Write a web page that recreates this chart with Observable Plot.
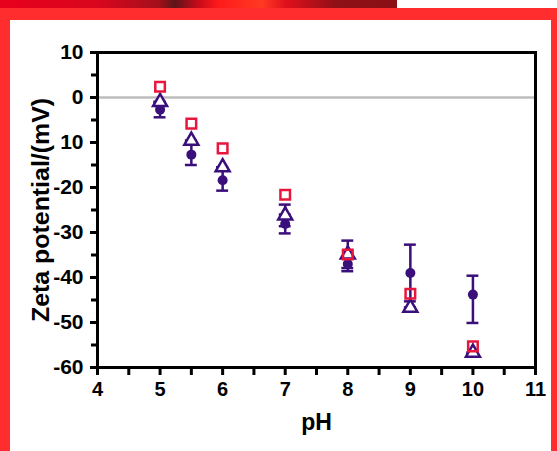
<!DOCTYPE html>
<html>
<head>
<meta charset="utf-8">
<script src="https://cdn.jsdelivr.net/npm/d3@7"></script>
<script src="https://cdn.jsdelivr.net/npm/@observablehq/plot@0.6"></script>
<style>
  html, body { margin: 0; padding: 0; background: #fff; }
  #page { position: relative; width: 557px; height: 451px; overflow: hidden; background: #fff; }
  #topbar { position: absolute; left: 0; top: 0; width: 397px; height: 8px;
    background: linear-gradient(90deg, #e8001c 0%, #d8061e 25%, #a3101a 40%, #5c1418 44%, #c80a1a 50%, #ff1a1a 55%, #ff3a22 66%, #e0101c 72%, #8d1016 85%, #8a1015 100%); }
  #frame { position: absolute; left: 0; top: 8px; width: 557px; height: 443px; background: #ff2d2d; }
  #inner { position: absolute; left: 10px; top: 20px; width: 541px; height: 431px; background: #fff; }
  #inner svg, #inner svg text { font-family: "Liberation Sans", Arial, sans-serif; font-weight: bold; }
</style>
</head>
<body>
<div id="page">
  <div id="topbar"></div>
  <div id="frame"></div>
  <div id="inner"></div>
</div>
<script>
// ---- data ----
const pH = [5, 5.5, 6, 7, 8, 9, 10];
const circleMean = [-2.7, -12.7, -18.4, -28.1, -37.0, -39.0, -43.8];
const circleLo   = [-4.4, -15.0, -20.7, -30.2, -38.6, -45.3, -50.1];
const circleHi   = [-1.0, -10.4, -16.1, -26.0, -35.4, -32.7, -39.6];
const triMean    = [-1.0, -9.6, -15.5, -26.2, -34.9, -46.7, -56.7];
const triLo      = [-1.0, -9.6, -15.5, -28.6, -37.9, -46.7, -56.7];
const triHi      = [-1.0, -9.6, -15.5, -23.8, -31.8, -46.7, -56.7];
const squareMean = [2.4, -5.8, -11.3, -21.6, -34.9, -43.6, -55.3];

const xTicks = [4, 5, 6, 7, 8, 9, 10, 11];
const xMinorTicks = [4.5, 5.5, 6.5, 7.5, 8.5, 9.5, 10.5];
const yTicks = [10, 0, -10, -20, -30, -40, -50, -60];
const yTickLabels = ["10", "0", "10", "-20", "-30", "-40", "-50", "-60"];
const yMinorTicks = [5, -5, -15, -25, -35, -45, -55];
const xLabel = "pH";
const yLabel = "Zeta potential/(mV)";

const purple = "#3a0f7c";
const red = "#e8163c";

const circles = pH.map((x, i) => ({pH: x, v: circleMean[i], lo: circleLo[i], hi: circleHi[i]}));
const tris = pH.map((x, i) => ({pH: x, v: triMean[i], lo: triLo[i], hi: triHi[i]}));
const squares = pH.map((x, i) => ({pH: x, v: squareMean[i]}));
const yLabelMap = new Map(yTicks.map((t, i) => [t, yTickLabels[i]]));
const capHalf = 0.095;

const chart = Plot.plot({
  width: 541,
  height: 431,
  marginLeft: 87,
  marginRight: 16,
  marginTop: 32,
  marginBottom: 84,
  x: {domain: [4, 11]},
  y: {domain: [-60, 10]},
  style: {color: "black", background: "white"},
  marks: [
    Plot.ruleY([0], {stroke: "#bdbdbd", strokeWidth: 2.5}),
    // error bars
    Plot.ruleX(circles, {x: "pH", y1: "lo", y2: "hi", stroke: purple, strokeWidth: 2.5}),
    Plot.ruleY(circles, {y: "lo", x1: d => d.pH - capHalf, x2: d => d.pH + capHalf, stroke: purple, strokeWidth: 2.5}),
    Plot.ruleY(circles, {y: "hi", x1: d => d.pH - capHalf, x2: d => d.pH + capHalf, stroke: purple, strokeWidth: 2.5}),
    Plot.ruleX(tris, {x: "pH", y1: "lo", y2: "hi", stroke: purple, strokeWidth: 2.5}),
    Plot.ruleY(tris, {y: "lo", x1: d => d.pH - capHalf, x2: d => d.pH + capHalf, stroke: purple, strokeWidth: 2.5}),
    Plot.ruleY(tris, {y: "hi", x1: d => d.pH - capHalf, x2: d => d.pH + capHalf, stroke: purple, strokeWidth: 2.5}),
    // markers
    Plot.dot(circles, {x: "pH", y: "v", r: 5, fill: purple, stroke: "none"}),
    Plot.dot(tris, {x: "pH", y: "v", r: 5.2, symbol: "triangle", fill: "white", stroke: purple, strokeWidth: 2.5}),
    Plot.dot(squares, {x: "pH", y: "v", r: 5.4, symbol: "square", fill: "none", stroke: red, strokeWidth: 2.5}),
    // axes
    Plot.frame({stroke: "black", strokeWidth: 3}),
    Plot.axisY(yTicks, {tickSize: 7, tickPadding: 7, strokeWidth: 3, fontSize: 21, tickFormat: d => yLabelMap.get(d), label: null}),
    Plot.axisY(yMinorTicks, {tickSize: 6, strokeWidth: 3, tickFormat: () => "", label: null}),
    Plot.axisX(xTicks, {tickSize: 8, tickPadding: 6, strokeWidth: 3, fontSize: 20, tickFormat: d => String(d), label: null}),
    Plot.axisX(xMinorTicks, {tickSize: 8, strokeWidth: 3, tickFormat: () => "", label: null}),
    Plot.text([xLabel], {frameAnchor: "bottom", dy: 62, fontSize: 23, fill: "black"}),
    Plot.text([yLabel], {frameAnchor: "left", rotate: -90, dx: -56, textAnchor: "middle", fontSize: 23, fill: "black"})
  ]
});
document.getElementById("inner").appendChild(chart);
// fit the vertical title to the reference's extent
for (const t of chart.querySelectorAll("text")) {
  if (t.textContent === yLabel) { t.setAttribute("textLength", 224); t.setAttribute("lengthAdjust", "spacingAndGlyphs"); }
}
</script>
</body>
</html>
